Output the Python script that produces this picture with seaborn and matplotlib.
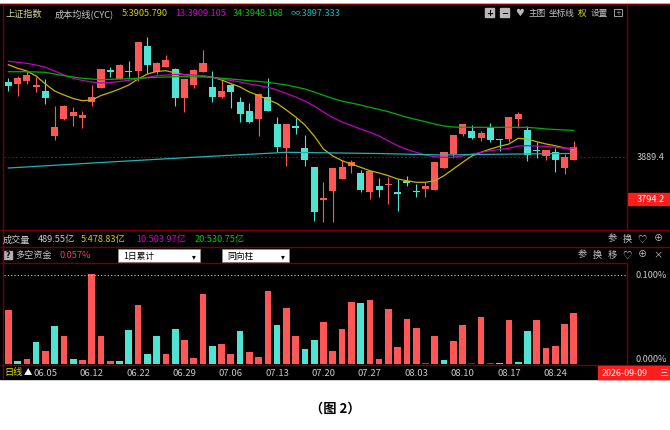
import numpy as np
import pandas as pd
import matplotlib
matplotlib.use("Agg")
import matplotlib.pyplot as plt
import seaborn as sns
from matplotlib.patches import Rectangle

plt.rcParams['font.family'] = ['Noto Sans CJK SC', 'DejaVu Sans']
plt.rcParams['axes.unicode_minus'] = False

# ---- daily K-line (index points) ----
opens = [4056.1, 4051.0, 4057.7, 4044.4, 4036.2, 3936.6, 3972.9, 3980.8, 3976.4, 4011.2,
         4042.8, 4081.3, 4062.7, 4080.5, 4079.8, 4134.5, 4076.9, 4089.3, 4084.2, 4020.0,
         4048.8, 4076.9, 4043.7, 4022.9, 4048.1, 4011.8, 3990.6, 3973.5, 4022.9, 3961.8,
         3909.3, 3958.7, 3910.0, 3866.6, 3794.2, 3813.4, 3841.3, 3868.8, 3854.0, 3811.2,
         3825.2, 3826.7, 3812.6, 3835.6, 3814.8, 3818.5, 3817.0, 3865.7, 3895.4, 3941.0,
         3947.6, 3931.5, 3953.6, 3929.2, 3929.2, 3973.5, 3948.5, 3905.5, 3890.9, 3900.5,
         3864.4, 3882.1]
highs = [4063.6, 4068.1, 4080.5, 4067.2, 4062.1, 4001.6, 4004.5, 4000.1, 3991.9, 4049.5,
         4083.6, 4088.0, 4095.3, 4101.3, 4143.3, 4154.4, 4100.4, 4115.9, 4085.8, 4062.1,
         4084.2, 4126.3, 4079.1, 4062.1, 4051.0, 4021.6, 4008.9, 4030.4, 4063.6, 3977.9,
         3962.4, 3976.4, 3938.1, 3866.6, 3833.4, 3864.4, 3882.7, 3882.7, 3861.3, 3859.1,
         3843.6, 3845.1, 3840.7, 3848.0, 3828.9, 3833.4, 3878.3, 3899.8, 3938.1, 3963.1,
         3960.9, 3946.3, 3964.7, 3929.2, 3977.3, 3989.7, 3957.4, 3921.9, 3904.2, 3910.0,
         3896.0, 3924.8]
lows = [4036.2, 4023.8, 4050.3, 4034.0, 4007.4, 3926.4, 3971.3, 3958.7, 3954.3, 4001.6,
        4041.5, 4067.2, 4062.1, 4067.2, 4058.3, 4074.7, 4073.1, 4089.3, 4001.6, 3988.4,
        4042.8, 4076.9, 4011.8, 4019.3, 3998.5, 3967.5, 3964.7, 3936.6, 3991.2, 3899.8,
        3870.1, 3941.0, 3868.8, 3748.8, 3744.8, 3746.1, 3841.3, 3854.0, 3811.2, 3796.4,
        3800.2, 3785.3, 3770.5, 3825.8, 3800.2, 3801.5, 3817.0, 3865.7, 3887.8, 3936.6,
        3929.2, 3925.5, 3921.9, 3903.3, 3923.3, 3954.3, 3881.2, 3887.2, 3883.4, 3855.5,
        3851.7, 3882.1]
closes = [4045.9, 4063.6, 4070.9, 4048.8, 4020.0, 3955.8, 4002.3, 3988.4, 3981.7, 4022.2,
          4083.6, 4078.2, 4093.7, 4076.9, 4143.3, 4093.1, 4097.5, 4104.1, 4020.0, 4062.1,
          4081.3, 4098.2, 4021.6, 4034.8, 4032.6, 3985.3, 3966.9, 4028.2, 3991.2, 3912.2,
          3962.4, 3953.6, 3882.7, 3767.6, 3797.9, 3864.4, 3867.9, 3877.6, 3817.0, 3859.1,
          3815.7, 3830.3, 3808.1, 3832.5, 3811.9, 3824.5, 3878.3, 3899.8, 3938.1, 3961.8,
          3931.5, 3943.2, 3926.4, 3926.4, 3977.3, 3984.6, 3894.5, 3902.7, 3904.2, 3882.1,
          3889.4, 3911.5]

# ---- cost moving averages (CYC) ----
cyc5 = [4093.7, 4085.8, 4079.8, 4068.7, 4051.0, 4035.5, 4026.7, 4018.9, 4014.0, 4015.6,
        4025.5, 4032.2, 4039.9, 4048.8, 4062.1, 4073.1, 4078.7, 4080.5, 4075.4, 4071.6,
        4070.3, 4068.7, 4066.5, 4059.9, 4052.1, 4044.4, 4033.3, 4025.5, 4016.7, 4007.8,
        3993.4, 3977.9, 3960.2, 3935.9, 3907.1, 3891.6, 3881.2, 3873.9, 3866.6, 3859.1,
        3854.0, 3848.0, 3840.7, 3836.9, 3833.4, 3833.4, 3836.9, 3848.0, 3862.8, 3877.6,
        3891.6, 3899.8, 3907.1, 3913.1, 3918.2, 3930.8, 3929.2, 3923.3, 3918.2, 3914.4,
        3909.3, 3905.8]
cyc13 = [4101.3, 4099.1, 4096.8, 4093.1, 4088.0, 4079.8, 4070.9, 4063.6, 4058.8, 4055.4,
         4053.2, 4054.3, 4056.5, 4059.2, 4062.1, 4065.8, 4069.4, 4070.9, 4072.0, 4071.6,
         4070.9, 4068.7, 4065.4, 4062.1, 4058.8, 4055.4, 4051.0, 4047.7, 4043.7, 4037.7,
         4030.0, 4022.2, 4013.4, 4002.3, 3989.0, 3976.8, 3966.9, 3959.1, 3951.4, 3944.1,
         3935.9, 3924.8, 3914.4, 3906.0, 3899.8, 3893.8, 3890.1, 3888.7, 3888.7, 3891.6,
         3896.0, 3899.8, 3903.3, 3906.0, 3908.7, 3913.7, 3914.4, 3913.7, 3913.1, 3910.9,
         3908.7, 3909.1]
cyc34 = [4078.2, 4078.2, 4078.2, 4077.6, 4076.9, 4073.1, 4069.4, 4066.5, 4063.6, 4062.1,
         4060.5, 4061.4, 4062.1, 4062.7, 4063.6, 4064.7, 4065.8, 4066.5, 4067.2, 4067.2,
         4067.2, 4066.5, 4065.8, 4063.8, 4062.1, 4060.3, 4058.3, 4056.5, 4054.8, 4051.7,
         4048.8, 4044.4, 4039.9, 4033.3, 4026.0, 4019.0, 4013.0, 4008.9, 4004.5, 3999.4,
         3994.6, 3989.7, 3983.5, 3977.3, 3972.4, 3967.5, 3962.4, 3958.0, 3955.8, 3955.1,
         3955.1, 3955.1, 3955.1, 3955.1, 3955.1, 3955.1, 3955.0, 3953.5, 3951.5, 3950.3,
         3949.2, 3948.2]
cyc_inf_idx = [0, 10, 20, 30, 40, 47, 50, 61]
cyc_inf = [3865.0, 3877.2, 3888.9, 3899.8, 3897.1, 3893.8, 3894.9, 3897.3]

# ---- long/short money flow (%) ----
flows = [0.061, 0.003, 0.0056, 0.025, 0.015, 0.043, 0.032, 0.0056, 0.0045, 0.101,
         0.032, 0.003, 0.0037, 0.038, 0.066, 0.011, 0.031, 0.0115, 0.039, 0.027,
         0.007, 0.079, 0.020, 0.023, 0.011, 0.037, 0.014, 0.008, 0.082, 0.044,
         0.063, 0.032, 0.017, 0.027, 0.047, 0.015, 0.039, 0.070, 0.069, 0.072,
         0.006, 0.062, 0.019, 0.051, 0.040, 0.001, 0.031, 0.004, 0.026, 0.044,
         0.001, 0.053, 0.001, 0.0015, 0.050, 0.002, 0.037, 0.050, 0.018, 0.020,
         0.045, 0.057]
flow_kind = ['r', 'c', 'r', 'c', 'r', 'c', 'r', 'c', 'r', 'r',
             'r', 'r', 'c', 'c', 'r', 'c', 'c', 'r', 'c', 'r',
             'r', 'r', 'c', 'r', 'r', 'c', 'r', 'r', 'r', 'c',
             'r', 'r', 'c', 'c', 'r', 'r', 'r', 'r', 'c', 'r',
             'r', 'r', 'r', 'r', 'r', 'dc', 'r', 'c', 'r', 'r',
             'dr', 'r', 'dc', 'c', 'r', 'c', 'c', 'r', 'r', 'r',
             'r', 'r']

tick_idx = [4, 9, 14, 19, 24, 29, 34, 39, 44, 49, 54, 59]
tick_lbl = ['06.05', '06.12', '06.22', '06.29', '07.06', '07.13',
            '07.20', '07.27', '08.03', '08.10', '08.17', '08.24']

RED = '#ff5656'
CYAN = '#4fe3d3'
YEL = '#c8b400'
MAG = '#c000c0'
GRN = '#00b000'
TEAL = '#22b2b2'
BORDER = '#7a0000'
GREY = '#c8c8c8'

W, H = 670, 431
fig = plt.figure(figsize=(W / 100, H / 100), dpi=100)
fig.patch.set_facecolor('white')


def box(x0, y0, x1, y1):
    return [x0 / W, 1 - y1 / H, (x1 - x0) / W, (y1 - y0) / H]


bg = fig.add_axes([0, 0, 1, 1])
bg.set_xlim(0, W)
bg.set_ylim(H, 0)
bg.axis('off')
bg.add_patch(Rectangle((0, 5), W, 375, color='black', zorder=0))

n = len(opens)
idx = np.arange(n)

# ---- main panel: candles + CYC lines ----
ax = fig.add_axes(box(4, 5, 627, 231))
ax.set_facecolor('none')
df = pd.DataFrame({'i': idx, 'open': opens, 'high': highs, 'low': lows, 'close': closes})
up = df['close'] >= df['open']
cols = np.where(up, RED, CYAN)
ax.vlines(df['i'], df['low'], df['high'], colors=cols, lw=0.8, zorder=3)
body_lo = np.minimum(df['open'], df['close'])
body_h = np.maximum((df['close'] - df['open']).abs(), 1.6)
ax.bar(df['i'], body_h, bottom=body_lo, width=0.76, color=cols, linewidth=0, zorder=4)

sns.lineplot(x=idx, y=cyc5, ax=ax, color=YEL, lw=0.9, zorder=5)
sns.lineplot(x=idx, y=cyc13, ax=ax, color=MAG, lw=0.9, zorder=5)
sns.lineplot(x=idx, y=cyc34, ax=ax, color=GRN, lw=0.9, zorder=5)
sns.lineplot(x=cyc_inf_idx, y=cyc_inf, ax=ax, color=TEAL, lw=0.9, zorder=5)
ax.axhline(3889.4, color='#a00000', lw=0.7, ls=(0, (2, 2)), zorder=2)

ax.set_xlim(-0.464, 66.74)
ax.set_ylim(3727.8, 4228.1)
ax.set_xticks([])
ax.set_yticks([])
ax.set_xlabel('')
ax.set_ylabel('')
for s in ax.spines.values():
    s.set_visible(False)

# ---- lower panel: money flow bars ----
ax2 = fig.add_axes(box(4, 264, 627, 366))
ax2.set_facecolor('none')
fdf = pd.DataFrame({'i': idx, 'flow': flows, 'kind': flow_kind})
pal = {'r': RED, 'c': CYAN, 'dr': '#7a1e1e', 'dc': '#1d6e68'}
sns.barplot(data=fdf, x='i', y='flow', hue='kind', palette=pal, dodge=False,
            native_scale=True, width=0.72, saturation=1, errorbar=None,
            legend=False, ax=ax2, linewidth=0)
ax2.axhline(0.1, color='#d0d0d0', lw=0.8, ls=(0, (1, 2)))
ax2.set_xlim(-0.464, 66.74)
ax2.set_ylim(-0.0011, 0.1135)
ax2.set_yticks([])
ax2.set_xticks(tick_idx)
ax2.set_xticklabels(tick_lbl)
ax2.tick_params(axis='x', length=0, pad=2.2, labelsize=6.8, labelcolor=GREY)
ax2.set_xlabel('')
ax2.set_ylabel('')
for s in ax2.spines.values():
    s.set_visible(False)

# ---- overlay: frame lines and texts in pixel coords ----
ov = fig.add_axes([0, 0, 1, 1])
ov.set_facecolor('none')
ov.set_xlim(0, W)
ov.set_ylim(H, 0)
ov.axis('off')

ov.hlines([5, 231, 248, 366], 0, W, color=BORDER, lw=1)
ov.hlines(264, 0, 627, color=BORDER, lw=1)
ov.vlines(3, 5, 380, color=BORDER, lw=1)
ov.vlines(627, 5, 231, color=BORDER, lw=1)
ov.vlines(627, 264, 366, color=BORDER, lw=1)

fs = 6.6
title_parts = [(6, '上证指数', '#d7d79b'), (55, '成本均线(CYC)', GREY),
               (122, '5:3905.790', '#d2d200'), (175, '13:3909.105', '#d200d2'),
               (233, '34:3948.168', '#00c800'), (291, '∞:3897.333', '#00c0c0')]
for x, t, c in title_parts:
    ov.text(x, 14, t, color=c, fontsize=fs, va='center', ha='left')

# top right tool icons
for x, sym in [(485, '+'), (500, '−')]:
    ov.add_patch(Rectangle((x, 9), 9, 8.5, color='#b8b8b8'))
    ov.text(x + 4.5, 13.2, sym, color='black', fontsize=6, fontweight='bold',
            ha='center', va='center', family=['DejaVu Sans'])
ov.text(519.5, 13.5, '♥', color='#b8b8b8', fontsize=7, ha='center', va='center',
        family=['DejaVu Sans'])
ov.text(529, 13.5, '主图', color=GREY, fontsize=6.2, va='center')
ov.text(549, 13.5, '坐标线', color=GREY, fontsize=6.2, va='center')
ov.text(578, 13.5, '权', color='#e0e000', fontsize=6.2, va='center')
ov.text(591, 13.5, '设置', color=GREY, fontsize=6.2, va='center')
ov.add_patch(Rectangle((614, 9.5), 8, 7.5, fill=False, ec='#a0a0a0', lw=0.7))
ov.text(618, 13.3, '+', color='#a0a0a0', fontsize=5, ha='center', va='center',
        family=['DejaVu Sans'])

# right price labels
ov.text(637, 158, '3889.4', color=GREY, fontsize=fs, va='center')
ov.add_patch(Rectangle((628, 194), 42, 12, color='#ff1e1e'))
ov.text(637, 200, '3794.2', color='white', fontsize=fs, va='center')

# volume row
vol_parts = [(3, '成交量', GREY), (38, '489.55亿', GREY), (81, '5:478.83亿', '#d2d200'),
             (136, '10:503.97亿', '#d200d2'), (195, '20:530.75亿', '#00c800')]
for x, t, c in vol_parts:
    ov.text(x, 240, t, color=c, fontsize=fs, va='center')
for x, t in [(612, '参'), (627, '换'), (642, '♡'), (658, '⊕')]:
    ov.text(x, 239, t, color=GREY, fontsize=fs, ha='center', va='center')

# money flow header row
ov.add_patch(Rectangle((4, 252), 8, 8, color='#b0b0b0'))
ov.text(8, 256, '?', color='black', fontsize=5.5, fontweight='bold', ha='center',
        va='center', family=['DejaVu Sans'])
ov.text(15, 256, '多空资金', color=GREY, fontsize=fs, va='center')
ov.text(59, 256, '0.057%', color='#e04848', fontsize=fs, va='center')
for x0, x1, t in [(118, 200, '1日累计'), (222, 289, '同向柱')]:
    ov.add_patch(Rectangle((x0, 250), x1 - x0, 13, fc='white', ec='#909090', lw=0.6))
    ov.text(x0 + 5, 256.5, t, color='black', fontsize=6.3, va='center')
    ov.text(x1 - 6, 256.5, '▾', color='black', fontsize=5.5, ha='center', va='center',
            family=['DejaVu Sans'])
for x, t in [(582, '参'), (597, '换'), (612, '移'), (627, '♡'), (642, '⊕'), (658, '×')]:
    ov.text(x, 255, t, color=GREY, fontsize=fs, ha='center', va='center')

ov.text(636, 276, '0.100%', color=GREY, fontsize=fs, va='center')
ov.text(636, 360, '0.000%', color=GREY, fontsize=fs, va='center')

# bottom date row
ov.text(4, 373, '日线', color='#e0e000', fontsize=fs, va='center')
ov.text(28, 373, '▲', color='white', fontsize=6, ha='center', va='center')
ov.add_patch(Rectangle((598, 367), 72, 12.5, color='#ff1e1e', zorder=5))
ov.text(602, 373.2, '2026-09-09', color='white', fontsize=6.4, va='center', zorder=6)
ov.text(659, 373.2, '三', color='white', fontsize=6.4, va='center', zorder=6)

# caption
ov.text(335, 409, '（图 2）', color='black', fontsize=9.5, fontweight='bold',
        ha='center', va='center')

fig.savefig('out.png', dpi=100, facecolor='white')
